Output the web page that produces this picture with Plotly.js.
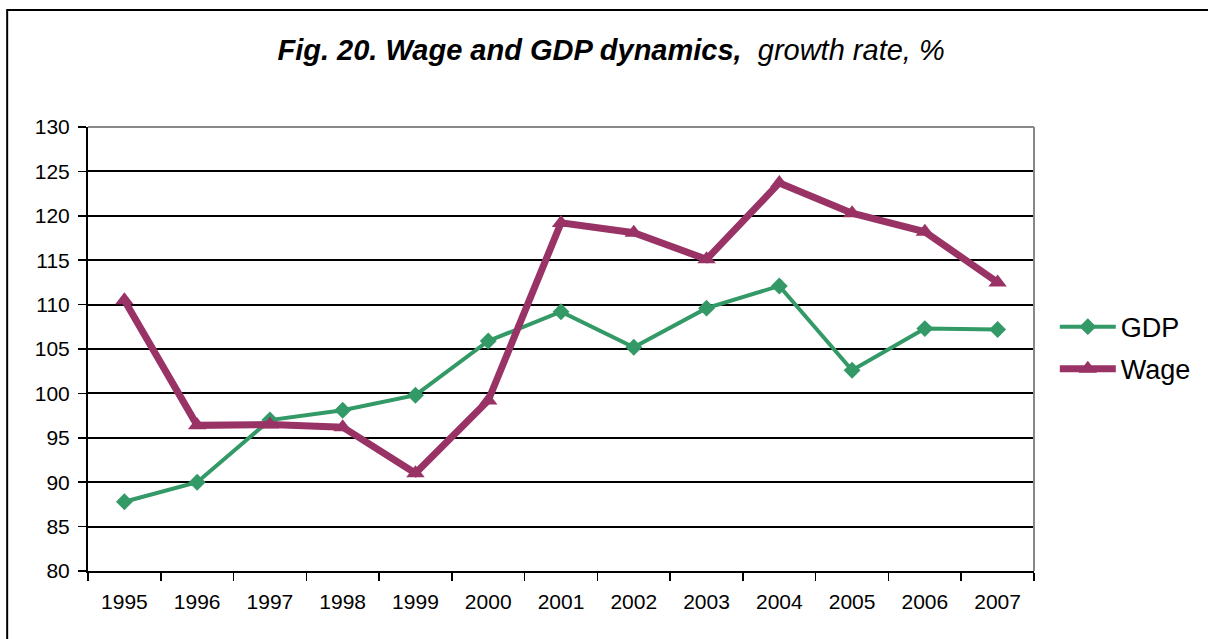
<!DOCTYPE html>
<html>
<head>
<meta charset="utf-8">
<script src="https://cdn.plot.ly/plotly-3.0.1.min.js"></script>
<style>html,body{margin:0;padding:0;background:#fff;}#chart{width:1208px;height:639px;}</style>
</head>
<body>
<div id="chart"></div>
<script>
var years = ['1995','1996','1997','1998','1999','2000','2001','2002','2003','2004','2005','2006','2007'];
var gdp  = [87.8, 90.0, 97.0, 98.1, 99.8, 105.9, 109.2, 105.2, 109.6, 112.1, 102.6, 107.3, 107.2];
var wage = [110.5, 96.4, 96.5, 96.2, 91.0, 99.2, 119.2, 118.1, 115.1, 123.7, 120.3, 118.2, 112.5];

var traces = [
  {x: years, y: gdp, name: 'GDP', type: 'scatter', mode: 'lines+markers', legendgroup: 'g1',
   line: {color: '#339966', width: 4},
   marker: {symbol: 'diamond', size: 13, color: '#339966'}},
  {x: years, y: wage, name: 'Wage', type: 'scatter', mode: 'lines+markers', legendgroup: 'g2',
   line: {color: '#993366', width: 7},
   marker: {symbol: 'triangle-up', size: 16, color: '#993366'}}
];

var layout = {
  width: 1208, height: 639,
  margin: {l: 88, r: 172, t: 127, b: 68},
  paper_bgcolor: '#fff', plot_bgcolor: '#fff',
  font: {family: 'Arial, Liberation Sans, sans-serif', color: '#000', size: 21},
  title: {
    text: '<b><i>Fig. 20. Wage and GDP dynamics,</i></b>  <i>growth rate, %</i>',
    font: {size: 29, family: 'Arial, Liberation Sans, sans-serif', color: '#000'},
    x: 0.553, xref: 'paper', xanchor: 'center', y: 0.922, yanchor: 'middle'
  },
  xaxis: {
    type: 'category', range: [-0.5, 12.5],
    showgrid: false, showline: true, linecolor: '#000', linewidth: 2,
    ticks: 'outside', tickson: 'boundaries', ticklen: 8, tickwidth: 1.5, tickcolor: '#000',
    ticklabelstandoff: 11,
    tickfont: {size: 21}, zeroline: false, mirror: false
  },
  yaxis: {
    range: [80, 130], dtick: 5, tick0: 80,
    showgrid: true, gridcolor: '#000', gridwidth: 2,
    showline: true, linecolor: '#000', linewidth: 2,
    ticks: 'outside', ticklen: 8, tickwidth: 1.5, tickcolor: '#000',
    ticklabelstandoff: 4,
    tickfont: {size: 21}, zeroline: false
  },
  legend: {
    x: 1.022, xanchor: 'left', y: 0.502, yanchor: 'middle',
    font: {size: 27}, bgcolor: 'rgba(0,0,0,0)', tracegroupgap: 4, traceorder: 'grouped',
    itemwidth: 56
  },
  showlegend: true,
  shapes: [
    {type: 'line', xref: 'paper', yref: 'paper', x0: 1, x1: 1, y0: 0, y1: 1,
     line: {color: '#888', width: 2}},
    {type: 'line', xref: 'paper', yref: 'paper', x0: 0, x1: 1, y0: 1, y1: 1,
     line: {color: '#888', width: 2}},
    {type: 'rect', xref: 'paper', yref: 'paper',
     x0: (7 - 88) / 948, x1: (1216 - 88) / 948,
     y0: (571 - 650) / 444, y1: (571 - 10) / 444,
     line: {color: '#000', width: 2}, fillcolor: 'rgba(0,0,0,0)', layer: 'below'}
  ]
};

Plotly.newPlot('chart', traces, layout, {displayModeBar: false, staticPlot: true});
</script>
</body>
</html>
